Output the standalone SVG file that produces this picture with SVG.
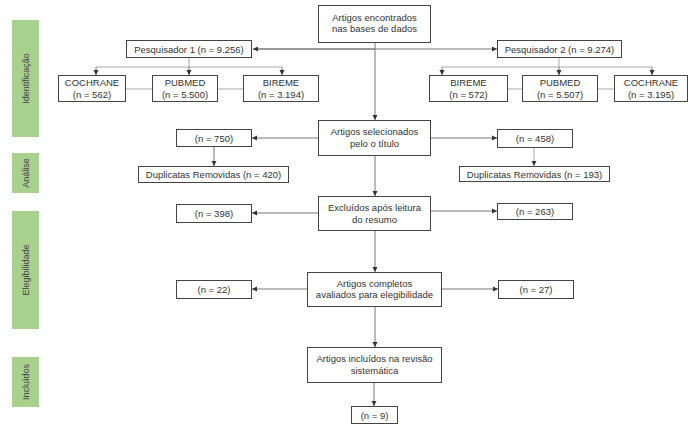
<svg xmlns="http://www.w3.org/2000/svg" width="696" height="432" viewBox="0 0 696 432">
<style>
.box{fill:#fff;stroke:#444;stroke-width:1}
.t{font-family:"Liberation Sans",Arial,sans-serif;font-size:9.5px;fill:#333;text-anchor:middle}
.side{fill:#a9d18e}
.st{font-family:"Liberation Sans",Arial,sans-serif;font-size:9px;fill:#444;text-anchor:middle}
.c{fill:none;stroke:#777;stroke-width:1}
.g{fill:none;stroke:#aaa;stroke-width:1}
</style>
<defs>
<marker id="a" markerWidth="6" markerHeight="6" refX="5" refY="3" orient="auto" markerUnits="userSpaceOnUse">
<path d="M0,0.5 L5,3 L0,5.5 Z" fill="#333"/>
</marker>
</defs>
<rect width="696" height="432" fill="#fff"/>
<g id="sidebars">
<rect class="side" x="12" y="20" width="27" height="117"/>
<text class="st" transform="translate(28.5,78.5) rotate(-90)">Identificação</text>
<rect class="side" x="12" y="153" width="27" height="40"/>
<text class="st" transform="translate(28.5,173) rotate(-90)">Análise</text>
<rect class="side" x="12" y="211" width="27" height="118"/>
<text class="st" transform="translate(28.5,270) rotate(-90)">Elegibilidade</text>
<rect class="side" x="12" y="357" width="27" height="50"/>
<text class="st" transform="translate(28.5,382) rotate(-90)">Incluídos</text>
</g>
<g id="connectors">
<line class="c" x1="253" y1="49" x2="497" y2="49" marker-end="url(#a)"/>
<line class="c" x1="375" y1="49" x2="253" y2="49" marker-end="url(#a)"/>
<line class="c" x1="375" y1="42" x2="375" y2="120" marker-end="url(#a)"/>
<polyline class="g" points="189,57 189,67"/>
<line class="g" x1="96" y1="67" x2="282" y2="67"/>
<line class="c" x1="96" y1="67" x2="96" y2="75" marker-end="url(#a)"/>
<line class="c" x1="189" y1="67" x2="189" y2="75" marker-end="url(#a)"/>
<line class="c" x1="282" y1="67" x2="282" y2="75" marker-end="url(#a)"/>
<line class="g" x1="559" y1="57" x2="559" y2="67"/>
<line class="g" x1="442" y1="67" x2="652" y2="67"/>
<line class="c" x1="442" y1="67" x2="442" y2="75" marker-end="url(#a)"/>
<line class="c" x1="559" y1="67" x2="559" y2="75" marker-end="url(#a)"/>
<line class="c" x1="652" y1="67" x2="652" y2="75" marker-end="url(#a)"/>
<line class="g" x1="125" y1="89" x2="152" y2="89"/>
<line class="g" x1="217" y1="89" x2="243" y2="89"/>
<line class="g" x1="507" y1="89" x2="522" y2="89"/>
<line class="g" x1="597" y1="89" x2="614" y2="89"/>
<line class="c" x1="318" y1="138" x2="252" y2="138" marker-end="url(#a)"/>
<line class="c" x1="430" y1="138" x2="497" y2="138" marker-end="url(#a)"/>
<line class="c" x1="214" y1="146" x2="214" y2="166" marker-end="url(#a)"/>
<line class="g" x1="534" y1="147" x2="534" y2="166" marker-end="url(#a)"/>
<line class="c" x1="375" y1="155" x2="375" y2="196" marker-end="url(#a)"/>
<line class="c" x1="318" y1="213" x2="252" y2="213" marker-end="url(#a)"/>
<line class="c" x1="430" y1="211" x2="497" y2="211" marker-end="url(#a)"/>
<line class="c" x1="375" y1="230" x2="375" y2="272" marker-end="url(#a)"/>
<line class="c" x1="307" y1="289" x2="252" y2="289" marker-end="url(#a)"/>
<line class="c" x1="441" y1="289" x2="498" y2="289" marker-end="url(#a)"/>
<line class="c" x1="375" y1="306" x2="375" y2="347" marker-end="url(#a)"/>
<line class="c" x1="374" y1="382" x2="374" y2="406" marker-end="url(#a)"/>
</g>
<g id="n-top">
<rect class="box" x="318.5" y="5.5" width="112" height="37"/>
<text class="t" x="374.5" y="20.5">Artigos encontrados</text>
<text class="t" x="374.5" y="32">nas bases de dados</text>
</g>
<g id="n-p1">
<rect class="box" x="126.5" y="40.5" width="125" height="17"/>
<text class="t" x="189" y="52.5">Pesquisador 1 (n = 9.256)</text>
</g>
<g id="n-p2">
<rect class="box" x="497.5" y="40.5" width="124" height="17"/>
<text class="t" x="559.5" y="52.5">Pesquisador 2 (n = 9.274)</text>
</g>
<g id="n-l-cochrane">
<rect class="box" x="58.5" y="75.5" width="67" height="26"/>
<text class="t" x="92" y="86">COCHRANE</text>
<text class="t" x="92" y="97.5">(n = 562)</text>
</g>
<g id="n-l-pubmed">
<rect class="box" x="152.5" y="75.5" width="65" height="26"/>
<text class="t" x="185" y="86">PUBMED</text>
<text class="t" x="185" y="97.5">(n = 5.500)</text>
</g>
<g id="n-l-bireme">
<rect class="box" x="243.5" y="75.5" width="75" height="26"/>
<text class="t" x="281" y="86">BIREME</text>
<text class="t" x="281" y="97.5">(n = 3.194)</text>
</g>
<g id="n-r-bireme">
<rect class="box" x="429.5" y="75.5" width="78" height="26"/>
<text class="t" x="468.5" y="86">BIREME</text>
<text class="t" x="468.5" y="97.5">(n = 572)</text>
</g>
<g id="n-r-pubmed">
<rect class="box" x="522.5" y="75.5" width="75" height="26"/>
<text class="t" x="560" y="86">PUBMED</text>
<text class="t" x="560" y="97.5">(n = 5.507)</text>
</g>
<g id="n-r-cochrane">
<rect class="box" x="614.5" y="75.5" width="73" height="26"/>
<text class="t" x="651" y="86">COCHRANE</text>
<text class="t" x="651" y="97.5">(n = 3.195)</text>
</g>
<g id="n-sel">
<rect class="box" x="318.5" y="120.5" width="112" height="35"/>
<text class="t" x="374.5" y="135">Artigos selecionados</text>
<text class="t" x="374.5" y="146.5">pelo o título</text>
</g>
<g id="n-750">
<rect class="box" x="176.5" y="129.5" width="75" height="17"/>
<text class="t" x="214" y="141.5">(n = 750)</text>
</g>
<g id="n-dup420">
<rect class="box" x="138.5" y="166.5" width="150" height="16"/>
<text class="t" x="213.5" y="178">Duplicatas Removidas (n = 420)</text>
</g>
<g id="n-458">
<rect class="box" x="497.5" y="129.5" width="75" height="18"/>
<text class="t" x="535" y="141.5">(n = 458)</text>
</g>
<g id="n-dup193">
<rect class="box" x="459.5" y="166.5" width="150" height="15"/>
<text class="t" x="534.5" y="177.5">Duplicatas Removidas (n = 193)</text>
</g>
<g id="n-excl">
<rect class="box" x="318.5" y="196.5" width="112" height="34"/>
<text class="t" x="374.5" y="211">Excluídos após leitura</text>
<text class="t" x="374.5" y="222.5">do resumo</text>
</g>
<g id="n-398">
<rect class="box" x="176.5" y="204.5" width="75" height="18"/>
<text class="t" x="214" y="216.5">(n = 398)</text>
</g>
<g id="n-263">
<rect class="box" x="497.5" y="203.5" width="75" height="16"/>
<text class="t" x="535" y="214.5">(n = 263)</text>
</g>
<g id="n-compl">
<rect class="box" x="307.5" y="272.5" width="134" height="34"/>
<text class="t" x="374.5" y="286.5">Artigos completos</text>
<text class="t" x="374.5" y="298">avaliados para elegibilidade</text>
</g>
<g id="n-22">
<rect class="box" x="176.5" y="280.5" width="75" height="18"/>
<text class="t" x="214" y="292.5">(n = 22)</text>
</g>
<g id="n-27">
<rect class="box" x="498.5" y="280.5" width="75" height="18"/>
<text class="t" x="536" y="292.5">(n = 27)</text>
</g>
<g id="n-incl">
<rect class="box" x="307.5" y="347.5" width="134" height="35"/>
<text class="t" x="374.5" y="362">Artigos incluídos na revisão</text>
<text class="t" x="374.5" y="373.5">sistemática</text>
</g>
<g id="n-9">
<rect class="box" x="351.5" y="406.5" width="46" height="17"/>
<text class="t" x="374.5" y="418.5">(n = 9)</text>
</g>
</svg>
